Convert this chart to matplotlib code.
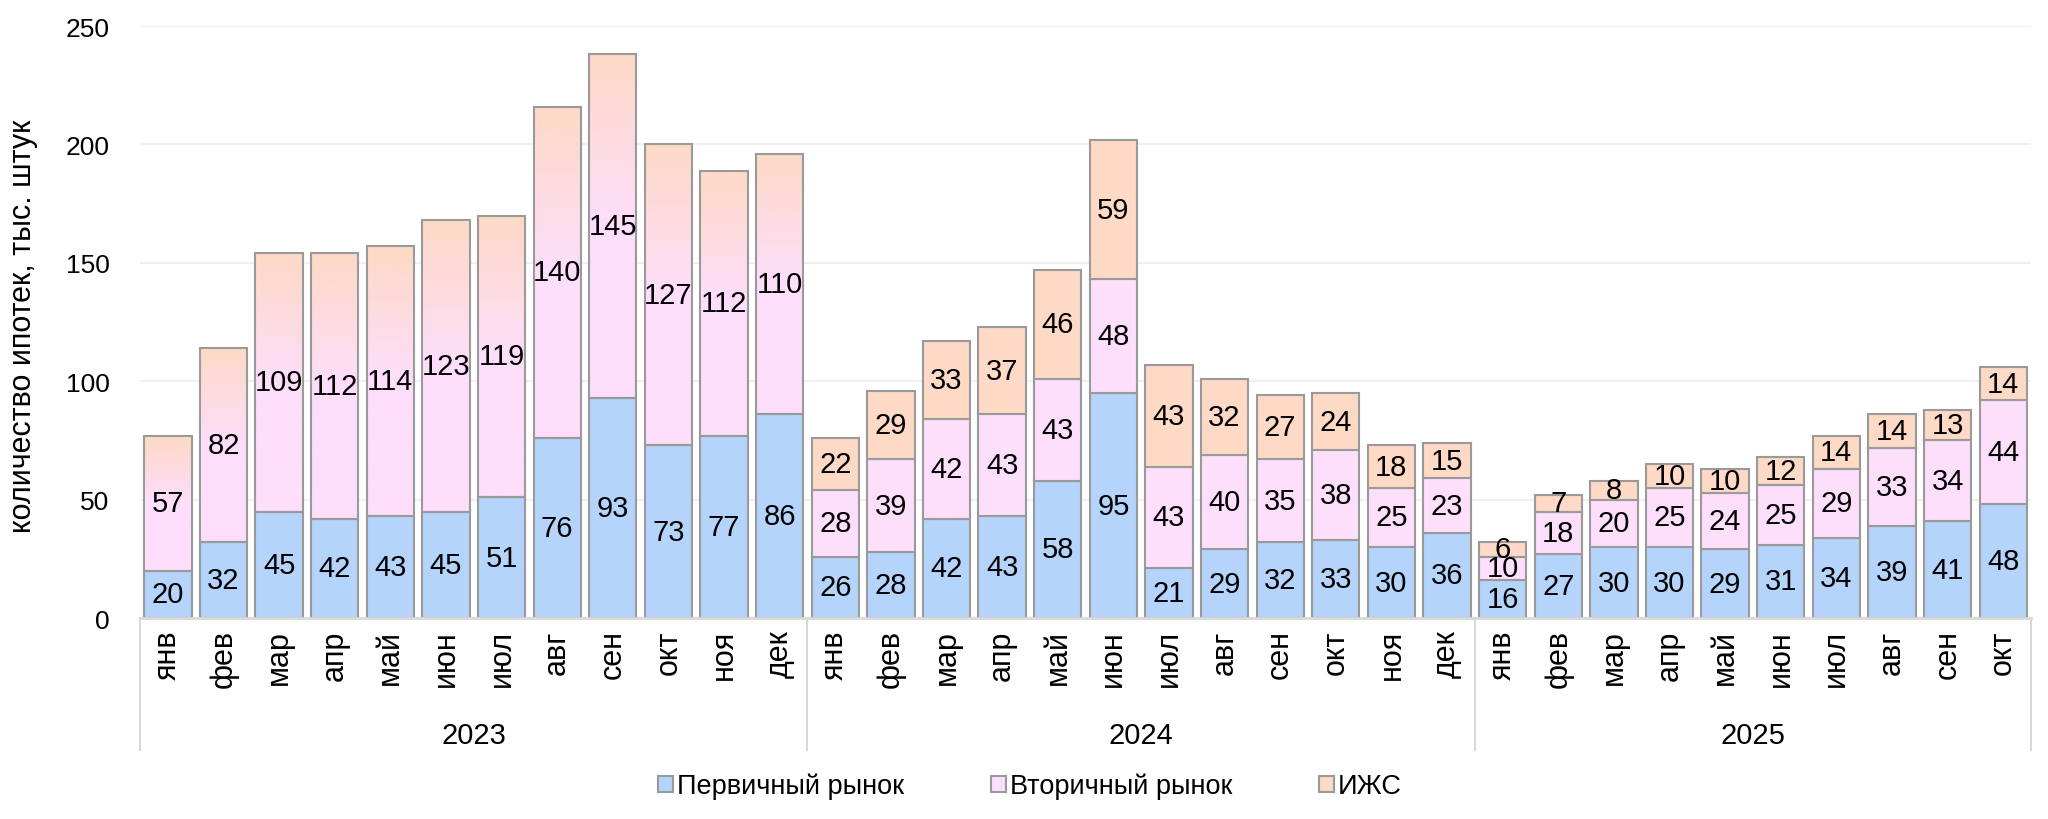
import numpy as np
import matplotlib
matplotlib.use('Agg')
import matplotlib.pyplot as plt
from matplotlib.patches import Patch
from matplotlib.colors import LinearSegmentedColormap

plt.rcParams['font.family'] = ['Liberation Sans', 'DejaVu Sans']

years = ['2023', '2024', '2025']
months_2023 = ['янв', 'фев', 'мар', 'апр', 'май', 'июн', 'июл', 'авг', 'сен', 'окт', 'ноя', 'дек']
months_2024 = ['янв', 'фев', 'мар', 'апр', 'май', 'июн', 'июл', 'авг', 'сен', 'окт', 'ноя', 'дек']
months_2025 = ['янв', 'фев', 'мар', 'апр', 'май', 'июн', 'июл', 'авг', 'сен', 'окт']

primary = [20, 32, 45, 42, 43, 45, 51, 76, 93, 73, 77, 86,
           26, 28, 42, 43, 58, 95, 21, 29, 32, 33, 30, 36,
           16, 27, 30, 30, 29, 31, 34, 39, 41, 48]
# в 2023 вторичный рынок показан вместе с ИЖС (без разбивки)
secondary = [57, 82, 109, 112, 114, 123, 119, 140, 145, 127, 112, 110,
             28, 39, 42, 43, 43, 48, 43, 40, 35, 38, 25, 23,
             10, 18, 20, 25, 24, 25, 29, 33, 34, 44]
izhs = [np.nan] * 12 + [22, 29, 33, 37, 46, 59, 43, 32, 27, 24, 18, 15,
                        6, 7, 8, 10, 10, 12, 14, 14, 13, 14]

labels_series = ['Первичный рынок', 'Вторичный рынок', 'ИЖС']

c_blue = '#b5d4fc'
c_pink = '#fddefb'
c_peach = '#fdd9c6'
c_edge = '#9a9a9a'
c_axis = '#d9d9d9'

months = months_2023 + months_2024 + months_2025
groups = [len(months_2023), len(months_2024), len(months_2025)]
n = len(months)
x = np.arange(n)
w = 0.85
primary = np.array(primary, dtype=float)
secondary = np.array(secondary, dtype=float)
izhs = np.array(izhs, dtype=float)
split = ~np.isnan(izhs)

fig = plt.figure(figsize=(20.48, 8.2), dpi=100)
ax = fig.add_axes([0.0684, 0.245, 0.9233, 0.722])

ax.bar(x, primary, w, color=c_blue, edgecolor=c_edge, linewidth=1.5, zorder=3)
ax.bar(x[split], secondary[split], w, bottom=primary[split], color=c_pink,
       edgecolor=c_edge, linewidth=1.5, zorder=3)
ax.bar(x[split], izhs[split], w, bottom=(primary + secondary)[split], color=c_peach,
       edgecolor=c_edge, linewidth=1.5, zorder=3)

# 2023: градиент от розового к персиковому
cmap = LinearSegmentedColormap.from_list('grad', [c_pink, c_pink, c_peach])
grad = np.linspace(0, 1, 256).reshape(-1, 1)
for i in x[~split]:
    y0 = primary[i]
    y1 = primary[i] + secondary[i]
    ax.imshow(grad, cmap=cmap, origin='lower', aspect='auto', interpolation='bilinear',
              extent=[i - w / 2, i + w / 2, y0, y1], zorder=2)
ax.bar(x[~split], secondary[~split], w, bottom=primary[~split], color='none',
       edgecolor=c_edge, linewidth=1.5, zorder=3)

# подписи значений
lab_font = dict(ha='center', va='center', fontsize=21, color='black', zorder=5)
for i in x:
    ax.text(i, primary[i] / 2, '%d' % primary[i], **lab_font)
    ax.text(i, primary[i] + secondary[i] / 2, '%d' % secondary[i], **lab_font)
    if split[i]:
        ax.text(i, primary[i] + secondary[i] + izhs[i] / 2, '%d' % izhs[i], **lab_font)

ax.set_xlim(-0.5, n - 0.5)
ax.set_ylim(0, 250)
ax.set_yticks(range(0, 251, 50))
ax.tick_params(axis='y', length=0, labelsize=19, pad=22)
ax.set_xticks(x)
ax.set_xticklabels(months, rotation=90, fontsize=22)
ax.tick_params(axis='x', length=0, pad=8)
ax.grid(axis='y', color='#f0f0f0', linewidth=1.5, zorder=0)
ax.set_axisbelow(True)
for s in ['top', 'right', 'left']:
    ax.spines[s].set_visible(False)
ax.spines['bottom'].set_color(c_axis)
ax.spines['bottom'].set_linewidth(2)
ax.spines['bottom'].set_zorder(4)

# разделители годов и подписи годов
tr = ax.get_xaxis_transform()
edges = np.concatenate([[0], np.cumsum(groups)]) - 0.5
for e in edges:
    ax.plot([e, e], [0, -0.223], transform=tr, color=c_axis, linewidth=1.5, clip_on=False)
for k, yr in enumerate(years):
    ax.text((edges[k] + edges[k + 1]) / 2, -0.198, yr, transform=tr, ha='center', va='center',
            fontsize=21)

fig.text(0.011, 0.602, 'количество ипотек, тыс. штук', rotation=90, ha='center', va='center',
         fontsize=22)

handles = [Patch(facecolor=c, edgecolor=c_edge, linewidth=1.5) for c in (c_blue, c_pink, c_peach)]
fig.legend(handles, labels_series, loc='center', bbox_to_anchor=(0.503, 0.04), ncol=3,
           frameon=False, fontsize=19.5, handlelength=0.55, handleheight=0.55, handletextpad=0.15,
           columnspacing=3.2)

plt.savefig('out.png', dpi=100)
